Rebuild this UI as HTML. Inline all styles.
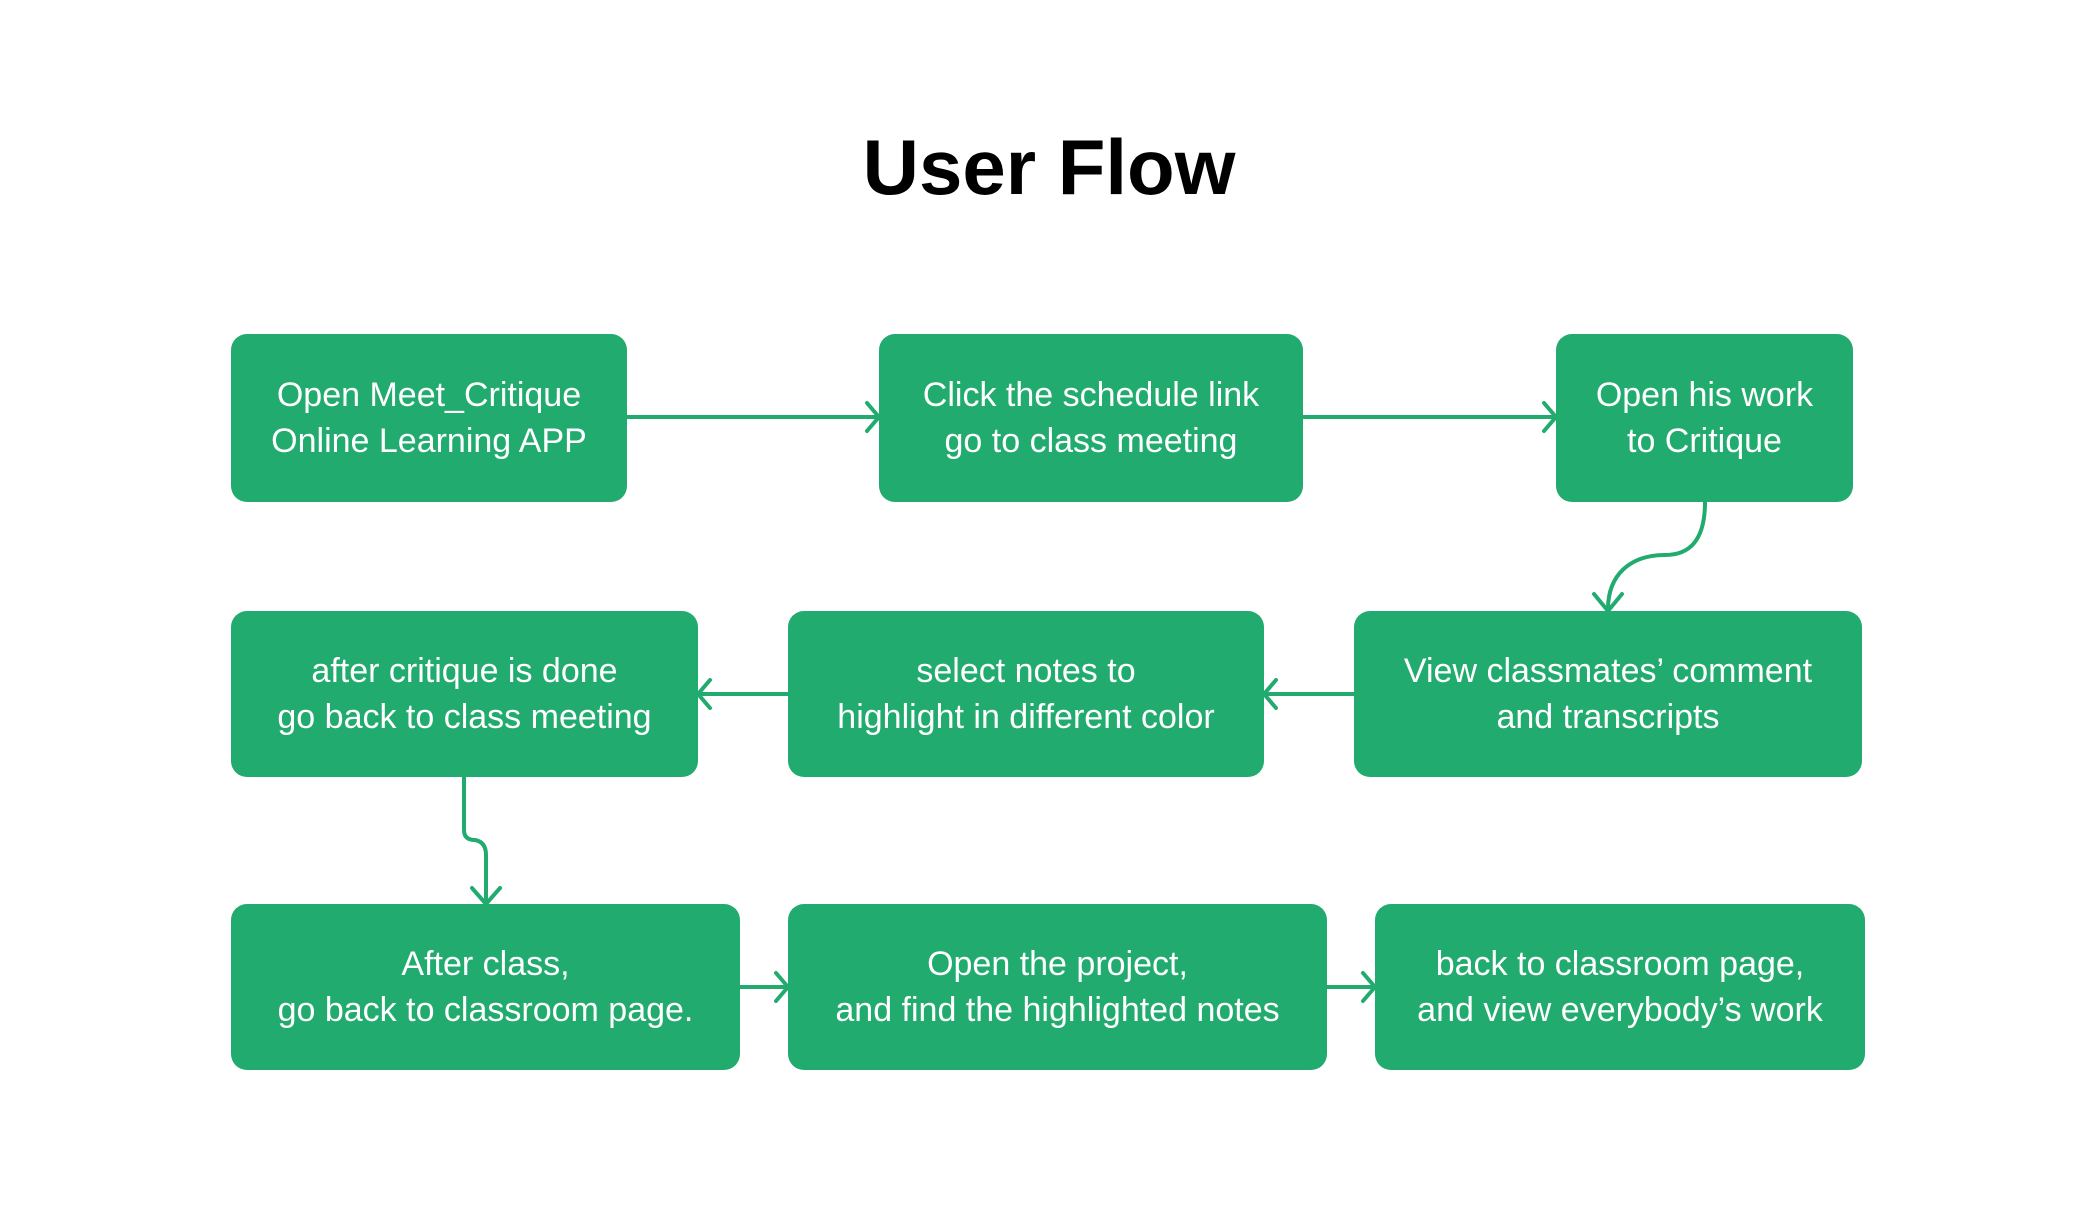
<!DOCTYPE html>
<html><head><meta charset="utf-8"><style>
html,body{margin:0;padding:0;background:#fff;}
body{width:2098px;height:1216px;position:relative;overflow:hidden;font-family:"Liberation Sans",sans-serif;}
.t{position:absolute;left:0;width:2098px;top:122px;text-align:center;font-weight:bold;font-size:78px;color:#000;}
.b{position:absolute;background:#22ab6f;border-radius:16px;color:#fff;font-size:34px;line-height:46px;display:flex;align-items:center;justify-content:center;text-align:center;}
svg{position:absolute;left:0;top:0;}
</style></head><body>
<div class="t">User Flow</div>
<svg width="2098" height="1216" fill="none" stroke="#22ab6f" stroke-width="4" stroke-linecap="round" stroke-linejoin="round">
<path d="M627 417H877M867 403L879 417L867 431"/>
<path d="M1303 417H1554M1544 403L1556 417L1544 431"/>
<path d="M1705 502C1705 540 1690 555 1665 555C1630 555 1608 575 1608 609M1594 594L1608 611L1622 594"/>
<path d="M1354 694H1266M1276 680L1264 694L1276 708"/>
<path d="M788 694H700M710 680L698 694L710 708"/>
<path d="M464 777V830Q464 840 475 840Q486 842 486 855V902M472 888L486 904L500 888"/>
<path d="M740 987H786M776 973L788 987L776 1001"/>
<path d="M1327 987H1373M1363 973L1375 987L1363 1001"/>
</svg>
<div class="b" style="left:231px;top:334px;width:396px;height:168px">Open Meet_Critique<br>Online Learning APP</div>
<div class="b" style="left:879px;top:334px;width:424px;height:168px">Click the schedule link<br>go to class meeting</div>
<div class="b" style="left:1556px;top:334px;width:297px;height:168px">Open his work<br>to Critique</div>
<div class="b" style="left:231px;top:611px;width:467px;height:166px">after critique is done<br>go back to class meeting</div>
<div class="b" style="left:788px;top:611px;width:476px;height:166px">select notes to<br>highlight in different color</div>
<div class="b" style="left:1354px;top:611px;width:508px;height:166px">View classmates’ comment<br>and transcripts</div>
<div class="b" style="left:231px;top:904px;width:509px;height:166px">After class,<br>go back to classroom page.</div>
<div class="b" style="left:788px;top:904px;width:539px;height:166px">Open the project,<br>and find the highlighted notes</div>
<div class="b" style="left:1375px;top:904px;width:490px;height:166px">back to classroom page,<br>and view everybody’s work</div>
</body></html>
